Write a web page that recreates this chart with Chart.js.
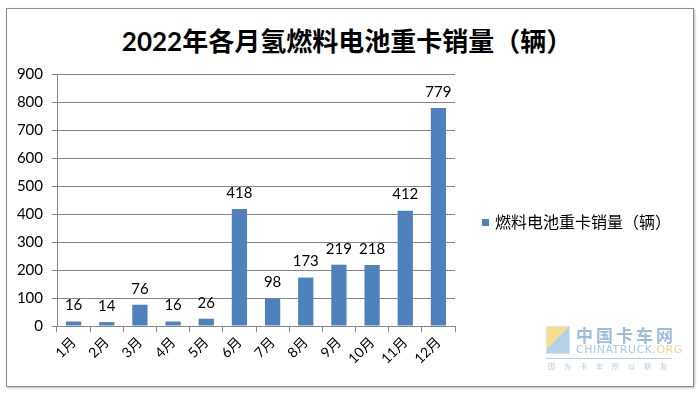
<!DOCTYPE html>
<html>
<head>
<meta charset="utf-8">
<script src="https://cdn.jsdelivr.net/npm/chart.js@4.4.1/dist/chart.umd.min.js"></script>
<style>
    html, body { margin: 0; padding: 0; background: #fff; }
    #wrap { position: relative; width: 700px; height: 393px; overflow: hidden; }
    #frame {
        position: absolute; left: 6px; top: 8px; width: 686px; height: 377px;
        border: 1px solid #8c8c8c; box-shadow: 1px 1px 2px #bbb;
    }
    #title {
        position: absolute; left: 0; top: 21px; width: 694px; text-align: center;
        font: bold 26px Lato, "Noto Sans CJK SC", sans-serif; color: #000;
    }
    #legend {
        position: absolute; left: 482px; top: 209px;
        font: 16px "Noto Sans CJK SC", sans-serif; color: #000; white-space: nowrap;
    }
    #legend span.box {
        display: inline-block; width: 7px; height: 7px; background: #4F81BD;
        margin-right: 6px; vertical-align: 2px;
    }
    #mark { position: absolute; left: 544px; top: 322px; width: 140px; height: 52px; opacity: 0.75; }
    #mark .cube {
        position: absolute; left: 2px; top: 4px; width: 22px; height: 26px;
        background: linear-gradient(135deg, #f4d36a 45%, #9dc2e0 46%);
        border: 1px solid #c9dced;
    }
    #mark .cn { position: absolute; left: 32px; top: 0; font: bold 17px "Noto Sans CJK SC", serif; color: #7fa7cf; letter-spacing: 3px; }
    #mark .en { position: absolute; left: 32px; top: 21px; font: 11px "DejaVu Sans", sans-serif; color: #8fb4d6; letter-spacing: 0.5px; }
    #mark .en b { color: #f0c46a; font-weight: normal; }
    #mark .ln { position: absolute; left: 2px; top: 36px; width: 126px; border-top: 1px solid #9fbcd6; }
    #mark .sub { position: absolute; left: 4px; top: 39px; font: 7px "Noto Sans CJK SC", sans-serif; color: #9fb5c9; letter-spacing: 9px; }
    canvas { position: absolute; left: 0; top: 0; }
</style>
</head>
<body>
<div id="wrap">
    <div id="frame"></div>
    <div id="title">2022年各月氢燃料电池重卡销量（辆）</div>
    <canvas id="salesChart" width="700" height="393"></canvas>
    <div id="legend"><span class="box"></span>燃料电池重卡销量（辆）</div>
    <div id="mark">
        <div class="cube"></div>
        <div class="cn">中国卡车网</div>
        <div class="en">CHINATRUCK.<b>ORG</b></div>
        <div class="ln"></div>
        <div class="sub">因为卡车所以朋友</div>
    </div>
</div>
<script>
// 月份 / 销量
var months = ['1月', '2月', '3月', '4月', '5月', '6月', '7月', '8月', '9月', '10月', '11月', '12月'];
var sales = [16, 14, 76, 16, 26, 418, 98, 173, 219, 218, 412, 779];
var seriesName = '燃料电池重卡销量（辆）';
var yTicks = [0, 100, 200, 300, 400, 500, 600, 700, 800, 900];

var barColor = '#4F81BD';
var gridColor = '#868686';

// 柱顶数值
var valueLabels = {
    id: 'valueLabels',
    afterDatasetsDraw: function(chart) {
        var ctx = chart.ctx;
        var meta = chart.getDatasetMeta(0);
        ctx.save();
        ctx.font = '15px Lato, sans-serif';
        ctx.fillStyle = '#000';
        ctx.textAlign = 'center';
        ctx.textBaseline = 'middle';
        meta.data.forEach(function(bar, i) {
            ctx.fillText(String(sales[i]), bar.x, bar.y - 16);
        });
        ctx.restore();
    }
};

new Chart(document.getElementById('salesChart'), {
    type: 'bar',
    data: {
        labels: months,
        datasets: [{
            label: seriesName,
            data: sales,
            backgroundColor: barColor,
            barPercentage: 0.46,
            categoryPercentage: 1
        }]
    },
    options: {
        responsive: false,
        animation: false,
        layout: { padding: { left: 0, right: 245, top: 74, bottom: 0 } },
        plugins: {
            legend: { display: false },
            title: { display: false },
            tooltip: { enabled: false }
        },
        scales: {
            y: {
                min: 0,
                max: 900,
                afterFit: function(scale) { scale.width = 57; },
                afterBuildTicks: function(scale) {
                    scale.ticks = yTicks.map(function(v) { return { value: v }; });
                },
                border: { color: gridColor, width: 1 },
                grid: { color: gridColor, lineWidth: 1, tickLength: 5 },
                ticks: {
                    font: { family: 'Lato', size: 15 },
                    color: '#000',
                    padding: 9
                }
            },
            x: {
                afterFit: function(scale) { scale.height = 393 - 326; },
                border: { color: gridColor, width: 1 },
                grid: { offset: true, drawOnChartArea: false, color: gridColor, tickLength: 6 },
                ticks: {
                    font: { family: 'Lato, "Noto Sans CJK SC"', size: 14 },
                    color: '#000',
                    minRotation: 45,
                    maxRotation: 45,
                    padding: 2
                }
            }
        }
    },
    plugins: [valueLabels]
});
</script>
</body>
</html>
